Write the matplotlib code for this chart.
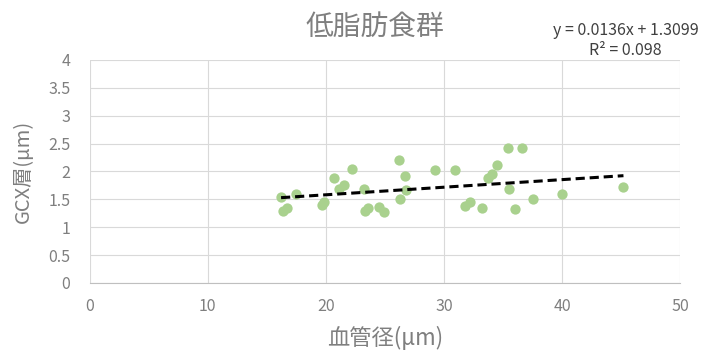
import matplotlib
matplotlib.use("Agg")
import matplotlib.pyplot as plt
import numpy as np

plt.rcParams['font.family'] = ['Noto Sans CJK JP', 'DejaVu Sans']

title = "低脂肪食群"
xlabel = "血管径(μm)"
ylabel = "GCX層(μm)"
equation = "y = 0.0136x + 1.3099"
r2_text = "R² = 0.098"
slope = 0.0136
intercept = 1.3099

x_vals = [16.2, 16.4, 16.7, 17.5, 19.7, 19.8, 20.7, 21.1, 21.5, 22.2, 23.2, 23.3, 23.6,
          24.5, 24.9, 26.2, 26.3, 26.7, 26.8, 29.2, 30.9, 31.8, 32.2, 33.2, 33.7, 34.1,
          34.5, 35.4, 36.6, 35.5, 36.0, 37.5, 40.0, 45.2]
y_vals = [1.54, 1.30, 1.35, 1.60, 1.40, 1.45, 1.89, 1.68, 1.76, 2.05, 1.68, 1.30, 1.35,
          1.37, 1.28, 2.20, 1.50, 1.92, 1.66, 2.03, 2.03, 1.38, 1.45, 1.35, 1.88, 1.95,
          2.12, 2.42, 2.43, 1.68, 1.32, 1.50, 1.60, 1.72]

x_ticks = [0, 10, 20, 30, 40, 50]
y_ticks = [0, 0.5, 1, 1.5, 2, 2.5, 3, 3.5, 4]
y_ticklabels = ["0", "0.5", "1", "1.5", "2", "2.5", "3", "3.5", "4"]

fig = plt.figure(figsize=(7.07, 3.54), dpi=100)
ax = fig.add_axes([0.127, 0.2006, 0.835, 0.63])

gray = "#7F7F7F"
gridc = "#D9D9D9"

ax.scatter(x_vals, y_vals, s=55, color="#A9D18E", zorder=3, linewidths=0)
xs = np.array([min(x_vals), max(x_vals)])
ax.plot(xs, slope * xs + intercept, color="black", linestyle=(0, (3, 1.6)), linewidth=2.2, zorder=4)

ax.set_xlim(0, 50)
ax.set_ylim(0, 4)
ax.set_xticks(x_ticks)
ax.set_yticks(y_ticks)
ax.set_yticklabels(y_ticklabels)
ax.grid(True, color=gridc, linewidth=0.8)
ax.set_axisbelow(True)
for s in ['top', 'right', 'left']:
    ax.spines[s].set_visible(False)
ax.spines['bottom'].set_color("#BFBFBF")
ax.tick_params(axis='x', length=0, colors=gray, labelsize=11.5, pad=11)
ax.tick_params(axis='y', length=0, colors=gray, labelsize=11.5, pad=14)

ax.set_xlabel(xlabel, fontsize=16, color=gray, labelpad=8)
ax.set_ylabel(ylabel, fontsize=14.5, color=gray, labelpad=10)

fig.text(0.53, 0.924, title, fontsize=20, color=gray, ha="center", va="center")
fig.text(0.885, 0.915, equation, fontsize=11.5, color="#404040", ha="center", va="center")
fig.text(0.885, 0.858, r2_text, fontsize=11.5, color="#404040", ha="center", va="center")

fig.savefig("out.png", dpi=100)
